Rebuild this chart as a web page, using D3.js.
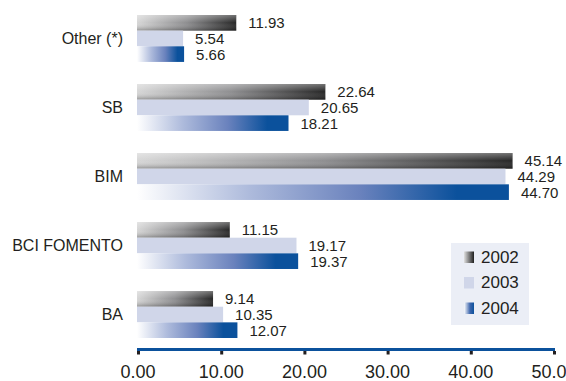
<!DOCTYPE html>
<html><head><meta charset="utf-8">
<script src="https://cdn.jsdelivr.net/npm/d3@7"></script>
<style>
html,body{margin:0;padding:0;background:#fff;}
text{font-family:"Liberation Sans",Arial,sans-serif;fill:#231f20;}
</style></head>
<body><svg id="chart" width="566" height="381"></svg>
<script>
const categories = ["Other (*)", "SB", "BIM", "BCI FOMENTO", "BA"];
const years = ["2002", "2003", "2004"];
const values2002 = [11.93, 22.64, 45.14, 11.15, 9.14];
const values2003 = [5.54, 20.65, 44.29, 19.17, 10.35];
const values2004 = [5.66, 18.21, 44.70, 19.37, 12.07];
const tickValues = [0, 10, 20, 30, 40, 50];

const series = [values2002, values2003, values2004];
const svg = d3.select("#chart");
const defs = svg.append("defs");

function lin(id, stops, vertical) {
  const g = defs.append("linearGradient").attr("id", id)
    .attr("x1", 0).attr("y1", 0).attr("x2", vertical ? 0 : 1).attr("y2", vertical ? 1 : 0);
  stops.forEach(s => g.append("stop").attr("offset", s[0]).attr("stop-color", s[1]).attr("stop-opacity", s[2] == null ? 1 : s[2]));
}
lin("g2002", [[0, "#d6d6d6"], [0.5, "#8e8e90"], [1, "#262626"]]);
lin("shade", [[0, "#ffffff", 0.35], [0.5, "#ffffff", 0], [1, "#000000", 0.3]], true);
lin("g2004", [[0, "#ffffff"], [0.3, "#aebbdc"], [0.6, "#6a82bd"], [0.86, "#0b519c"], [1, "#0b519c"]]);
const fills = ["url(#g2002)", "#d0d6e9", "url(#g2004)"];

const x = d3.scaleLinear().domain([0, 50]).range([137, 553]);
const y = d3.scaleBand().domain(categories).range([15, 338]).paddingInner(0.32).paddingOuter(0);
const yi = d3.scaleBand().domain(years).range([0, y.bandwidth()]).padding(0);

const groups = svg.append("g").selectAll("g").data(categories).join("g")
  .attr("transform", d => `translate(0,${y(d)})`);

groups.each(function(cat, ci) {
  const g = d3.select(this);
  years.forEach((yr, si) => {
    const v = series[si][ci];
    g.append("rect").attr("x", x(0)).attr("y", yi(yr))
      .attr("width", x(v) - x(0)).attr("height", yi.bandwidth()).attr("fill", fills[si]);
    if (si === 0) {
      g.append("rect").attr("x", x(0)).attr("y", yi(yr))
        .attr("width", x(v) - x(0)).attr("height", yi.bandwidth()).attr("fill", "url(#shade)");
    }
    g.append("text").attr("x", x(v) + 12).attr("y", yi(yr) + yi.bandwidth() / 2 + 5.5)
      .attr("font-size", 15).text(d3.format(".2f")(v));
  });
  g.append("text").attr("x", 123).attr("y", y.bandwidth() / 2 + 5.5)
    .attr("text-anchor", "end").attr("font-size", 16).text(cat);
});

// axis
const axisG = svg.append("g");
axisG.append("rect").attr("x", x(0)).attr("y", 348).attr("width", 555 - x(0)).attr("height", 3).attr("fill", "#0b519c");
axisG.selectAll("rect.tick").data(tickValues).join("rect").attr("class", "tick")
  .attr("x", d => x(d)).attr("y", 351).attr("width", 3).attr("height", 3.5).attr("fill", "#231f20");
axisG.selectAll("text").data(tickValues).join("text")
  .attr("x", d => x(d) + 1).attr("y", 378).attr("text-anchor", "middle").attr("font-size", 18)
  .text(d => d3.format(".2f")(d));

// legend
const lg = svg.append("g");
lg.append("rect").attr("x", 451).attr("y", 243).attr("width", 78).attr("height", 82).attr("fill", "#ebeef6");
lin("l2002", [[0, "#e0e0e0"], [1, "#1f1f1f"]]);
lin("l2004", [[0, "#ffffff"], [0.6, "#3d66ad"], [1, "#0b519c"]]);
const lfills = ["url(#l2002)", "#d0d6e9", "url(#l2004)"];
years.forEach((yr, i) => {
  const yy = 251.5 + i * 25.5;
  lg.append("rect").attr("x", 464).attr("y", yy).attr("width", 10).attr("height", 11.5).attr("fill", lfills[i]);
  lg.append("text").attr("x", 481).attr("y", yy + 11).attr("font-size", 17).text(yr);
});
</script></body></html>
